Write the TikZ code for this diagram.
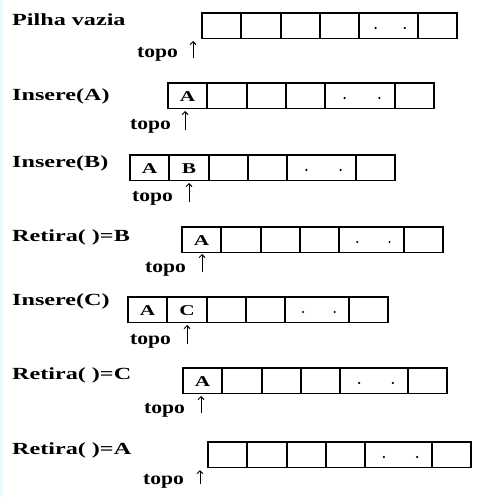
\documentclass[tikz,border=0pt]{standalone}
\usepackage{fontspec}
\usepackage{tikz}
\usetikzlibrary{arrows.meta}

\newfontfamily\rotfont[FakeStretch=1.42]{Liberation Serif}
\newfontfamily\topofont[FakeStretch=1.2]{Liberation Serif}
\definecolor{fundo}{RGB}{232,250,252}

\tikzset{
	celula/.style={line width=1.8pt},
	rotulo/.style={font=\rotfont\bfseries\fontsize{17}{19}\selectfont, inner sep=0pt, anchor=base west},
	topo/.style={font=\topofont\bfseries\fontsize{18}{20}\selectfont, inner sep=0pt, anchor=base west},
	letra/.style={font=\rotfont\bfseries\fontsize{15}{17}\selectfont, inner sep=0pt},
	seta/.style={line width=0.9pt, -{Straight Barb[length=3pt,width=6pt]}}
}

% vetor de 6 celulas: nome, x, y (topo), largura da celula com os pontos
\newcommand{\vetor}[4]{%
	\foreach \i in {0,...,3}
		\draw[celula] ({#2+39.3*\i},#3) rectangle ++(39.3,25.5);
	\draw[celula] ({#2+157.2},#3) rectangle ++(#4,25.5);
	\draw[celula] ({#2+157.2+#4},#3) rectangle ++(39.5,25.5);
	\fill ({#2+157.2+0.28*#4},{#3+15}) circle (1.2);
	\fill ({#2+157.2+0.78*#4},{#3+15}) circle (1.2);
	\coordinate (#1) at ({#2+19.65},{#3+13.5});
}

\begin{document}
\begin{tikzpicture}[x=1pt, y=-1pt]
	\useasboundingbox (0,0) rectangle (503,497);
	\fill[fundo] (0,0) rectangle (3,497);

	% Pilha vazia
	\node[rotulo] (r1) at (12,26) {Pilha vazia};
	\vetor{v1}{202}{13}{58.5}
	\node[topo] (topo1) at (137,58) {topo};
	\coordinate (p1) at (193,41);
	\draw[seta] (p1 |- topo1.base) -- (p1);

	% Insere(A)
	\node[rotulo] (r2) at (12,101) {Insere(A)};
	\vetor{v2}{168}{83}{69.5}
	\node[letra] (a2) at (v2) {A};
	\node[topo] (topo2) at (130,130) {topo};
	\coordinate (p2) at (185,111);
	\draw[seta] (p2 |- topo2.base) -- (p2);

	% Insere(B)
	\node[rotulo] (r3) at (12,168) {Insere(B)};
	\vetor{v3}{130}{155}{68.5}
	\node[letra] (a3) at (v3) {A};
	\node[letra] (b3) at ([xshift=39.3pt]v3) {B};
	\node[topo] (topo3) at (132,202) {topo};
	\coordinate (p3) at (189,183);
	\draw[seta] (p3 |- topo3.base) -- (p3);

	% Retira()=B
	\node[rotulo] (r4) at (12,241) {Retira( )=B};
	\vetor{v4}{182}{227}{64.5}
	\node[letra] (a4) at (v4) {A};
	\node[topo] (topo4) at (145,272) {topo};
	\coordinate (p4) at (202,254);
	\draw[seta] (p4 |- topo4.base) -- (p4);

	% Insere(C)
	\node[rotulo] (r5) at (12,305) {Insere(C)};
	\vetor{v5}{128}{297}{63.5}
	\node[letra] (a5) at (v5) {A};
	\node[letra] (c5) at ([xshift=39.3pt]v5) {C};
	\node[topo] (topo5) at (130,344) {topo};
	\coordinate (p5) at (187,325);
	\draw[seta] (p5 |- topo5.base) -- (p5);

	% Retira()=C
	\node[rotulo] (r6) at (12,379) {Retira( )=C};
	\vetor{v6}{183}{368}{67.5}
	\node[letra] (a6) at (v6) {A};
	\node[topo] (topo6) at (144,413) {topo};
	\coordinate (p6) at (201,396);
	\draw[seta] (p6 |- topo6.base) -- (p6);

	% Retira()=A
	\node[rotulo] (r7) at (12,454) {Retira( )=A};
	\vetor{v7}{208}{442}{66.5}
	\node[topo] (topo7) at (143,484) {topo};
	\coordinate (p7) at (200,470);
	\draw[seta] (p7 |- topo7.base) -- (p7);
\end{tikzpicture}
\end{document}
